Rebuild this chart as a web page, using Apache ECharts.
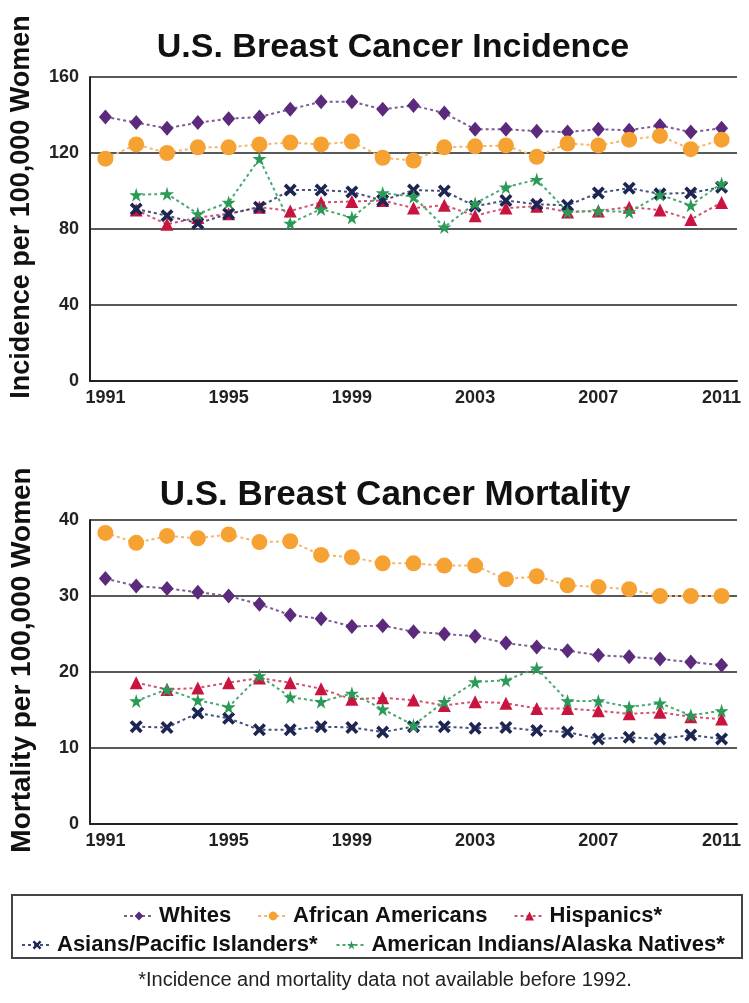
<!DOCTYPE html>
<html>
<head>
<meta charset="utf-8">
<script src="https://cdn.jsdelivr.net/npm/echarts@6/dist/echarts.min.js"></script>
<style>
  html, body { margin: 0; padding: 0; background: #fff; }
  #chart { width: 749px; height: 1003px; }
</style>
</head>
<body>
<div id="chart"></div>
<script>
// years on the x axis
var years = ['1991', '1992', '1993', '1994', '1995', '1996', '1997', '1998', '1999', '2000',
    '2001', '2002', '2003', '2004', '2005', '2006', '2007', '2008', '2009', '2010', '2011'];

// incidence per 100,000 women
var incWhites = [139, 136, 133, 136, 138, 139, 143, 147, 147, 143, 145, 141, 132.5, 132.5, 131.5, 131, 132.5, 132, 134.5, 131, 133];
var incAfrican = [117, 124.5, 120, 123, 123, 124.5, 125.5, 124.5, 126, 117.5, 116, 123, 123.5, 124, 118, 125, 124, 127, 129, 122, 127];
var incHispanic = [null, 90, 82.5, 86, 88, 91.5, 89.5, 94, 94.5, 95, 91, 92.5, 87, 91, 92, 89, 89.5, 91.5, 90, 85, 94];
var incAsian = [null, 90.5, 87, 83, 88, 91.5, 100.5, 100.5, 99.5, 95, 100.5, 100, 92, 95, 93, 92.5, 99, 101.5, 98.5, 99, 102];
var incNative = [null, 98, 98.5, 88, 94, 117, 83, 90.5, 86, 99, 97, 81, 93.5, 102, 106, 89, 89.5, 89, 98, 92.5, 104];

// mortality per 100,000 women
var morWhites = [32.3, 31.3, 31, 30.5, 30, 28.9, 27.5, 27, 26, 26.1, 25.3, 25, 24.7, 23.8, 23.3, 22.8, 22.2, 22, 21.7, 21.3, 20.9];
var morAfrican = [38.3, 37, 37.9, 37.6, 38.1, 37.1, 37.2, 35.4, 35.1, 34.3, 34.3, 34, 34, 32.2, 32.6, 31.4, 31.2, 30.9, 30, 30, 30];
var morHispanic = [null, 18.6, 17.7, 17.9, 18.6, 19.2, 18.6, 17.8, 16.4, 16.6, 16.3, 15.6, 16.1, 15.9, 15.2, 15.2, 14.9, 14.5, 14.7, 14.1, 13.8];
var morAsian = [null, 12.8, 12.7, 14.6, 13.9, 12.4, 12.4, 12.8, 12.7, 12.1, 12.8, 12.8, 12.6, 12.7, 12.3, 12.1, 11.2, 11.4, 11.2, 11.7, 11.2];
var morNative = [null, 16.2, 17.7, 16.3, 15.4, 19.5, 16.7, 16.1, 17.2, 15.1, 13, 16.1, 18.7, 18.9, 20.5, 16.2, 16.2, 15.4, 15.9, 14.3, 14.9];

var groups = ['Whites', 'African Americans', 'Hispanics*', 'Asians/Pacific Islanders*', 'American Indians/Alaska Natives*'];

var FONT = '"Liberation Sans", Arial, sans-serif';

var crossPath = 'path://M2,0 L5,3 L8,0 L10,2 L7,5 L10,8 L8,10 L5,7 L2,10 L0,8 L3,5 L0,2 Z';
var starPath = 'path://M50,0 L61,35 L98,35 L68,57 L79,91 L50,70 L21,91 L32,57 L2,35 L39,35 Z';

var looks = [
    { color: '#5b2a7c', line: '#7d5d92', symbol: 'diamond', size: [13, 15] },
    { color: '#f6a233', line: '#f3b66a', symbol: 'circle', size: 16 },
    { color: '#c8143e', line: '#d2536f', symbol: 'triangle', size: 13 },
    { color: '#1d2652', line: '#46507a', symbol: crossPath, size: 13 },
    { color: '#2b9a57', line: '#4aa772', symbol: starPath, size: 14 }
];

function makeSeries(name, data, idx, look) {
    return {
        name: name,
        type: 'line',
        xAxisIndex: idx,
        yAxisIndex: idx,
        data: data,
        symbol: look.symbol,
        symbolSize: look.size,
        showAllSymbol: true,
        connectNulls: false,
        itemStyle: { color: look.color },
        lineStyle: { color: look.line, width: 2, type: [3, 3] },
        emphasis: { disabled: true }
    };
}

var incData = [incWhites, incAfrican, incHispanic, incAsian, incNative];
var morData = [morWhites, morAfrican, morHispanic, morAsian, morNative];
var series = [];
groups.forEach(function (g, i) {
    series.push(makeSeries(g, incData[i], 0, looks[i]));
});
groups.forEach(function (g, i) {
    series.push(makeSeries(g, morData[i], 1, looks[i]));
});

function xAxis(idx) {
    return {
        type: 'category',
        gridIndex: idx,
        data: years,
        boundaryGap: true,
        axisLine: { lineStyle: { color: '#222', width: 2 } },
        axisTick: { inside: true, length: 5, alignWithLabel: true, interval: 0, lineStyle: { color: '#222', width: 1.5 } },
        axisLabel: { interval: 3, color: '#222', fontFamily: FONT, fontWeight: 'bold', fontSize: 18, margin: 8 },
        splitLine: { show: false }
    };
}

function yAxis(idx, max, step) {
    return {
        type: 'value',
        gridIndex: idx,
        min: 0,
        max: max,
        interval: step,
        axisLine: { show: true, lineStyle: { color: '#222', width: 2 } },
        axisTick: { show: false },
        axisLabel: { color: '#222', fontFamily: FONT, fontWeight: 'bold', fontSize: 18, margin: 11 },
        splitLine: { lineStyle: { color: '#222', width: 1.5 } }
    };
}

var legendText = { fontFamily: FONT, fontWeight: 'bold', fontSize: 22, color: '#111' };

var chart = echarts.init(document.getElementById('chart'));
var option = {
    animation: false,
    backgroundColor: '#fff',
    title: [
        { text: 'U.S. Breast Cancer Incidence', left: 388, top: 26, textAlign: 'center',
          textStyle: { fontFamily: FONT, fontWeight: 'bold', fontSize: 34, color: '#111' } },
        { text: 'U.S. Breast Cancer Mortality', left: 390, top: 473, textAlign: 'center',
          textStyle: { fontFamily: FONT, fontWeight: 'bold', fontSize: 35, color: '#111' } }
    ],
    grid: [
        { left: 90, right: 12, top: 77, height: 304 },
        { left: 90, right: 12, top: 520, height: 304 }
    ],
    xAxis: [xAxis(0), xAxis(1)],
    yAxis: [yAxis(0, 160, 40), yAxis(1, 40, 10)],
    legend: [
        { data: groups.slice(0, 3), left: 118, top: 900, width: 620, itemGap: 26, itemWidth: 30, itemHeight: 11,
          textStyle: legendText, selectedMode: false },
        { data: groups.slice(3), left: 16, top: 929, width: 726, itemGap: 18, itemWidth: 30, itemHeight: 11,
          textStyle: legendText, selectedMode: false }
    ],
    graphic: [
        { type: 'text', x: 22, y: 207, rotation: Math.PI / 2,
          style: { text: 'Incidence per 100,000 Women', font: 'bold 27px ' + FONT, fill: '#111',
                   textAlign: 'center', textVerticalAlign: 'middle' } },
        { type: 'text', x: 22, y: 660, rotation: Math.PI / 2,
          style: { text: 'Mortality per 100,000 Women', font: 'bold 28px ' + FONT, fill: '#111',
                   textAlign: 'center', textVerticalAlign: 'middle' } },
        { type: 'rect', shape: { x: 12, y: 895, width: 730, height: 63 },
          style: { fill: 'none', stroke: '#444', lineWidth: 2 } },
        { type: 'text', x: 385, y: 980,
          style: { text: '*Incidence and mortality data not available before 1992.', font: '20px ' + FONT,
                   fill: '#222', textAlign: 'center', textVerticalAlign: 'middle' } }
    ],
    series: series
};
chart.setOption(option);
</script>
</body>
</html>
